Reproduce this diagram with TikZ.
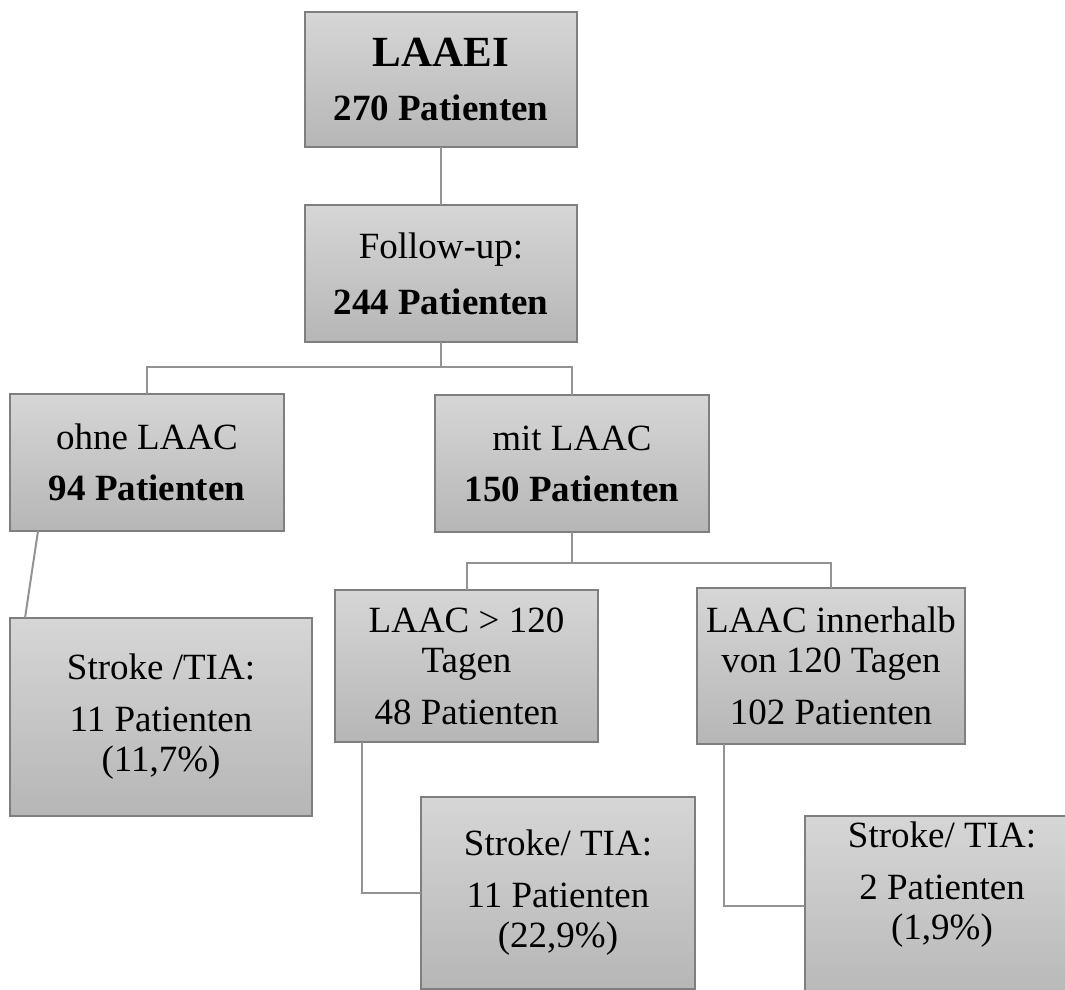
\documentclass[tikz,border=0pt]{standalone}
\usepackage{fontspec}
\setmainfont{Liberation Serif}
\usetikzlibrary{calc}
\definecolor{boxtop}{HTML}{D6D6D6}
\definecolor{boxbot}{HTML}{B6B6B6}
\definecolor{bordergray}{HTML}{7F7F7F}
\definecolor{linegray}{HTML}{939393}
\begin{document}
\begin{tikzpicture}[x=1pt,y=-1pt]
\tikzset{
  box/.style={draw=bordergray, line width=1.4pt, top color=boxtop, bottom color=boxbot,
    anchor=north west, inner sep=0pt, outer sep=0pt, align=center,
    font=\fontsize{37}{40}\selectfont},
  conn/.style={draw=linegray, line width=2pt},
  txt/.style={inner sep=0pt, align=center, font=\fontsize{37}{40}\selectfont}
}
\clip (0,0) rectangle (1065,990);
\useasboundingbox (0,0) rectangle (1065,990);

\node[box, minimum width=272pt, minimum height=135pt] (b1) at (305,12)
  {{\fontsize{43}{46}\selectfont\bfseries LAAEI}\\[14pt]\textbf{270 Patienten}};
\node[box, minimum width=272pt, minimum height=137pt] (b2) at (305,205)
  {Follow-up:\\[16pt]\textbf{244 Patienten}};
\node[box, minimum width=274pt, minimum height=137pt] (b3) at (10,394)
  {ohne LAAC\\[11pt]\textbf{94 Patienten}};
\node[box, minimum width=274pt, minimum height=137pt] (b4) at (435,395)
  {mit LAAC\\[11pt]\textbf{150 Patienten}};
\node[box, minimum width=302pt, minimum height=198pt] (b5) at (10,618)
  {Stroke /TIA:\\[12pt]11 Patienten\\(11,7\%)};
\node[box, minimum width=263pt, minimum height=152pt] (b6) at (335,590)
  {LAAC > 120\\Tagen\\[12pt]48 Patienten};
\node[box, minimum width=268pt, minimum height=156pt] (b7) at (697,588)
  {LAAC innerhalb\\von 120 Tagen\\[12pt]102 Patienten};
\node[box, minimum width=274pt, minimum height=192pt] (b8) at (421,797)
  {Stroke/ TIA:\\[12pt]11 Patienten\\(22,9\%)};
\node[box, minimum width=274pt, minimum height=193pt] (b9) at (805,816) {};
\node[txt, anchor=north] (t9) at ($(b9.north)+(0,6)$)
  {Stroke/ TIA:\\[12pt]2 Patienten\\(1,9\%)};

\draw[conn] (b1.south) -- (b2.north);
\coordinate (j1) at ($(b2.south)+(0,25)$);
\draw[conn] (b2.south) -- (j1) -| (b3.north);
\draw[conn] (j1) -| (b4.north);
\draw[conn] ($(b3.south west)+(28,0)$) -- ($(b5.north west)+(15,0)$);
\coordinate (j2) at ($(b4.south)+(0,31)$);
\draw[conn] (b4.south) -- (j2) -| (b6.north);
\draw[conn] (j2) -| (b7.north);
\draw[conn] ($(b6.south west)+(27,0)$) |- (b8.west);
\draw[conn] ($(b7.south west)+(27,0)$) |- ($(b9.north west)+(0,90)$);
\end{tikzpicture}
\end{document}
